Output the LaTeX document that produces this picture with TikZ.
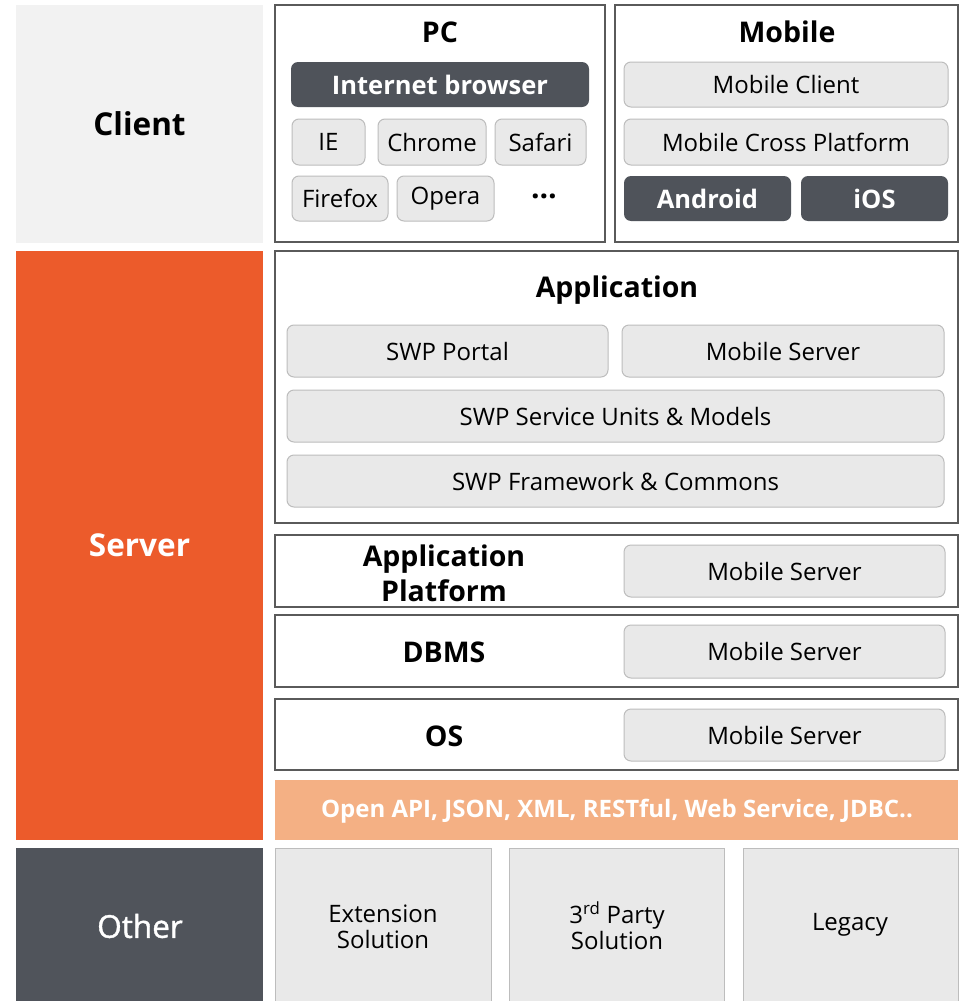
\documentclass[tikz,border=0pt]{standalone}
\usepackage{fontspec}
\setmainfont{Open Sans}
\newfontfamily\semib[FakeBold=1.2]{Open Sans}
\definecolor{clientgray}{HTML}{F2F2F2}
\definecolor{serverorange}{HTML}{EC5B2B}
\definecolor{othergray}{HTML}{50545B}
\definecolor{darkbox}{HTML}{4F535A}
\definecolor{lightfill}{HTML}{E9E9E9}
\definecolor{lightline}{HTML}{BDBDBD}
\definecolor{outerline}{HTML}{5A5A5A}
\definecolor{apiorange}{HTML}{F4B084}
\tikzset{
  base/.style={inner sep=0pt, outer sep=0pt, align=center, text=black},
  sidebox/.style={base, draw=none, font=\fontsize{31.5}{35}\selectfont\bfseries},
  outerbox/.style={base, draw=outerline, line width=1.2pt, fill=white},
  lightbox/.style={base, draw=lightline, line width=1pt, fill=lightfill, rounded corners=7pt, font=\fontsize{24}{28}\selectfont},
  darkrbox/.style={base, draw=none, fill=darkbox, rounded corners=7pt, text=white, font=\fontsize{25.5}{29}\selectfont\bfseries},
  flatbox/.style={base, draw=lightline, line width=1pt, fill=lightfill, font=\fontsize{24}{28}\selectfont},
  titletext/.style={base, font=\fontsize{28.5}{32}\selectfont\bfseries},
  apibox/.style={base, draw=none, fill=apiorange},
  apitext/.style={base, text=white, font=\fontsize{24}{28}\selectfont\bfseries},
  plaintext/.style={base, font=\fontsize{24}{26}\selectfont},
}
\newcommand{\bx}[7]{\node[#6, minimum width={(#4)-(#2)}, minimum height={(#5)-(#3)}] (#1) at ({((#2)+(#4))/2},{-((#3)+(#5))/2}) {#7};}
\begin{document}
\begin{tikzpicture}[x=1pt,y=1pt]
\useasboundingbox (0,0) rectangle (959,-1001);
% side blocks
\bx{client}{16}{5}{263}{243}{sidebox, fill=clientgray}{Client}
\bx{server}{16}{251}{263}{840}{sidebox, fill=serverorange, text=white}{Server}
\bx{other}{16}{848}{263}{1004}{sidebox, fill=othergray, text=white}{}
\node[base, text=white, font=\fontsize{31.5}{35}\selectfont\semib] (othert) at (140,-926) {Other};
% PC
\bx{pc}{275}{5}{605}{242}{outerbox}{}
\node[titletext] (pct) at (440,-32) {PC};
\bx{ib}{291}{62}{589}{107}{darkrbox}{Internet browser}
\bx{ie}{292}{119}{365}{165}{lightbox}{IE}
\bx{chrome}{378}{119}{486}{165}{lightbox}{Chrome}
\bx{safari}{495}{119}{586}{165}{lightbox}{Safari}
\bx{firefox}{292}{176}{388}{221}{lightbox}{Firefox}
\bx{opera}{397}{176}{494}{221}{lightbox}{Opera}
\node[base, font=\fontsize{30}{32}\selectfont\bfseries] (dots) at (544,-196) {…};
% Mobile
\bx{mobile}{615}{5}{958}{242}{outerbox}{}
\node[titletext] (mobt) at (787,-32) {Mobile};
\bx{mclient}{624}{62}{948}{107}{lightbox}{Mobile Client}
\bx{mcross}{624}{119}{948}{165}{lightbox}{Mobile Cross Platform}
\bx{android}{624}{176}{791}{221}{darkrbox}{Android}
\bx{ios}{801}{176}{948}{221}{darkrbox}{iOS}
% Application
\bx{app}{275}{251}{958}{523}{outerbox}{}
\node[titletext] (appt) at (617,-290) {Application};
\bx{portal}{287}{325}{608}{377}{lightbox}{SWP Portal}
\bx{ms1}{622}{325}{944}{377}{lightbox}{Mobile Server}
\bx{units}{287}{390}{944}{442}{lightbox}{SWP Service Units \& Models}
\bx{frame}{287}{455}{944}{507}{lightbox}{SWP Framework \& Commons}
% Application platform
\bx{ap}{275}{535}{958}{607}{outerbox}{}
\node[titletext, font=\fontsize{28.5}{35}\selectfont\bfseries] (apt) at (444,-573) {Application\\Platform};
\bx{ms2}{624}{545}{945}{597}{lightbox}{Mobile Server}
% DBMS
\bx{dbms}{275}{615}{958}{687}{outerbox}{}
\node[titletext] (dbmst) at (444,-652) {DBMS};
\bx{ms3}{624}{625}{945}{678}{lightbox}{Mobile Server}
% OS
\bx{os}{275}{699}{958}{770}{outerbox}{}
\node[titletext] (ost) at (444,-736) {OS};
\bx{ms4}{624}{709}{945}{761}{lightbox}{Mobile Server}
% API
\bx{api}{275}{780}{958}{840}{apibox}{}
\node[apitext] (apit) at (617,-811) {Open API, JSON, XML, RESTful, Web Service, JDBC..};
% Other
\bx{ext}{275}{848}{491}{1004}{flatbox}{}
\bx{third}{509}{848}{724}{1004}{flatbox}{}
\bx{legacy}{743}{848}{958}{1004}{flatbox}{}
\node[plaintext] (extt) at (383,-927) {Extension\\Solution};
\node[plaintext] (thirdt) at (617,-926) {3\textsuperscript{rd} Party\\Solution};
\node[plaintext] (legt) at (850,-925) {Legacy};
\end{tikzpicture}
\end{document}
